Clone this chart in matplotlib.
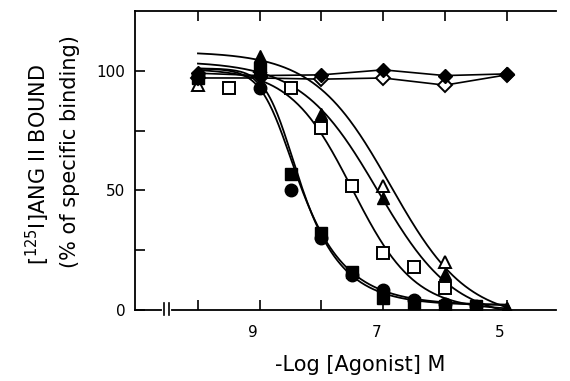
import numpy as np
import matplotlib
matplotlib.use("Agg")
import matplotlib.pyplot as plt
from matplotlib.transforms import ScaledTranslation, blended_transform_factory

# doses are -log[agonist] (M); responses are % of specific binding
dose_fill = [10, 9, 8.5, 8, 7.5, 7, 6.5, 6, 5.5]
circle_bound = [98, 93, 50, 30, 14.5, 8.5, 4, 2.5, 1.5]
square_bound = [97, 101, 57, 32, 16, 5, 3, 1.5, 1.5]

dose_open_sq = [9.5, 8.5, 8, 7.5, 7, 6.5, 6]
open_sq_bound = [93, 93, 76, 52, 24, 18, 9]

dose_tri = [10, 9, 8, 7, 6, 5]
tri_bound = [99, 106, 82, 47, 15, 0.8]
dose_open_tri = [10, 9, 7, 6, 5]
open_tri_bound = [94, 102, 52, 20, 0.5]

dose_dia = [10, 9, 8, 7, 6, 5]
dia_bound = [99, 98, 98.3, 100.4, 98, 98.7]
open_dia_bound = [97, 97, 96.5, 97, 94, 98.3]

# fitted competition curves: top, bottom, pIC50, hill slope, asymmetry
fit_circle = (101, 2, 8.73, 2.0, 0.35)
fit_square = (101, 2, 8.68, 2.2, 0.35)
fit_open_sq = (101, 0, 7.5, 0.86, 1.0)
fit_tri = (104, -4, 7.09, 0.7, 1.0)
fit_open_tri = (108, -4, 6.88, 0.7, 1.0)


def hill(L, top, bottom, pic50, n, s):
    return bottom + (top - bottom) / (1 + 10 ** (n * (pic50 - L))) ** s


fig = plt.figure(figsize=(5.7, 3.81), dpi=100)
ax = fig.add_axes([135 / 570, 71 / 381, 421 / 570, 299 / 381])

L = np.linspace(10, 5, 300)
for p in (fit_circle, fit_square, fit_open_sq, fit_tri, fit_open_tri):
    ax.plot(L, hill(L, *p), color="black", lw=1.3, zorder=2)

# the two non-competing ligands, joined point to point
ax.plot(dose_dia, dia_bound, color="black", lw=1.2, zorder=2)
ax.plot(dose_dia, open_dia_bound, color="black", lw=1.2, zorder=2)

ms = 9
open_kw = dict(ls="none", mfc="white", mec="black", mew=1.4, ms=ms, zorder=3)
fill_kw = dict(ls="none", mfc="black", mec="black", ms=ms, zorder=4)

ax.plot(dose_open_sq, open_sq_bound, marker="s", **open_kw)
ax.plot(dose_open_tri, open_tri_bound, marker="^", **open_kw)
ax.plot(dose_dia, open_dia_bound, marker="D", **dict(open_kw, ms=7.5))
ax.plot(dose_fill, circle_bound, marker="o", **fill_kw)
ax.plot(dose_fill, square_bound, marker="s", **fill_kw)
ax.plot(dose_tri, tri_bound, marker="^", **fill_kw)
ax.plot(dose_dia, dia_bound, marker="D", **dict(fill_kw, ms=7.5))

ax.set_xlim(11.02, 4.2)
ax.set_ylim(0, 125)

ax.set_xticks([10, 9, 8, 7, 6, 5])
ax.set_xticklabels(["", "9", "", "7", "", "5"])
ax.set_yticks([0, 25, 50, 75, 100])
ax.set_yticklabels(["0", "", "50", "", "100"])
ax.tick_params(direction="in", length=7.5, width=1.2, labelsize=11,
               top=True, right=False)
ax.tick_params(axis="x", pad=11)
ax.tick_params(axis="y", pad=7)
shift = ScaledTranslation(-7 / 100, 0, fig.dpi_scale_trans)
for lab in ax.get_xticklabels():
    lab.set_transform(lab.get_transform() + shift)

ax.spines["right"].set_visible(False)
for side in ("left", "top", "bottom"):
    ax.spines[side].set_linewidth(1.3)

# axis break on the dose axis
tr = blended_transform_factory(ax.transData, ax.transAxes)
ax.plot([10.55, 10.47], [0, 0], color="white", lw=3, transform=tr,
        clip_on=False, zorder=5)
for xb in (10.55, 10.47):
    ax.plot([xb, xb], [-0.017, 0.022], color="black", lw=1.2, transform=tr,
            clip_on=False, zorder=6)

fig.text(360 / 570, 1 - 365 / 381, "-Log [Agonist] M", fontsize=15,
         ha="center", va="center")
fig.text(38 / 570, 1 - 165 / 381, r"[$^{125}$I]ANG II BOUND", fontsize=15,
         rotation=90, ha="center", va="center")
fig.text(70 / 570, 1 - 152 / 381, "(% of specific binding)", fontsize=15,
         rotation=90, ha="center", va="center")

fig.savefig("out.png", dpi=100)
